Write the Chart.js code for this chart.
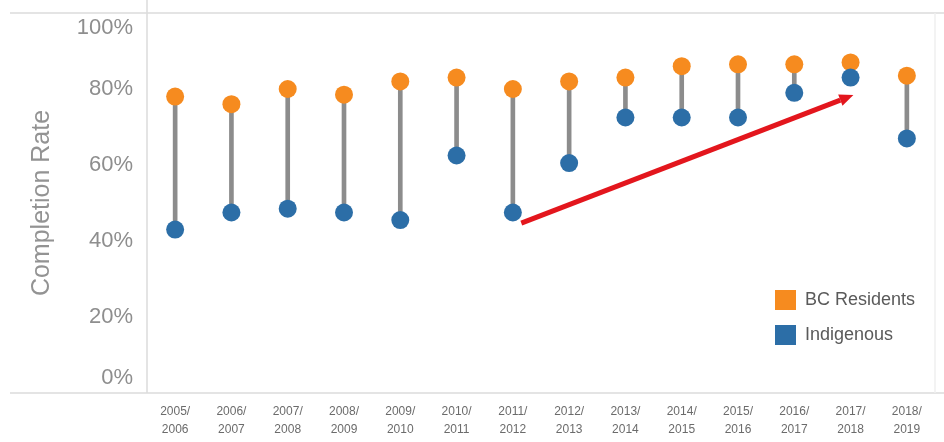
<!DOCTYPE html>
<html>
<head>
<meta charset="utf-8">
<script src="https://cdn.jsdelivr.net/npm/chart.js@4"></script>
<style>
  html, body { margin: 0; padding: 0; background: #fff; }
  #wrap { width: 944px; height: 442px; }
</style>
</head>
<body>
<div id="wrap"><canvas id="completionChart"></canvas></div>
<script>
const years = [
  ["2005/", "2006"], ["2006/", "2007"], ["2007/", "2008"], ["2008/", "2009"],
  ["2009/", "2010"], ["2010/", "2011"], ["2011/", "2012"], ["2012/", "2013"],
  ["2013/", "2014"], ["2014/", "2015"], ["2015/", "2016"], ["2016/", "2017"],
  ["2017/", "2018"], ["2018/", "2019"]
];
const bcResidents = [78, 76, 80, 78.5, 82, 83, 80, 82, 83, 86, 86.5, 86.5, 87, 83.5];
const indigenous = [43, 47.5, 48.5, 47.5, 45.5, 62.5, 47.5, 60.5, 72.5, 72.5, 72.5, 79, 83, 67];
const yTicks = [0, 20, 40, 60, 80, 100];
// red trend arrow, [category index, percent]
const trendArrow = [[6.15, 44.7], [12.05, 78.4]];

const ORANGE = "#f68b1f";
const BLUE = "#2c6ea7";

const frameAndLabels = {
  id: "frameAndLabels",
  beforeDatasetsDraw(chart) {
    const { ctx, chartArea: a, width } = chart;
    ctx.save();
    ctx.strokeStyle = "#dcdcdc";
    ctx.lineWidth = 1.5;
    ctx.beginPath();
    ctx.moveTo(10, a.top); ctx.lineTo(width, a.top);
    ctx.moveTo(10, a.bottom); ctx.lineTo(width, a.bottom);
    ctx.moveTo(a.left, 0); ctx.lineTo(a.left, a.bottom);
    ctx.stroke();
    ctx.strokeStyle = "#efefef";
    ctx.beginPath();
    ctx.moveTo(a.right, a.top); ctx.lineTo(a.right, a.bottom);
    ctx.stroke();
    ctx.restore();
  },
  afterDatasetsDraw(chart) {
    const { ctx, scales: { x, y } } = chart;
    const x1 = x.getPixelForValue(trendArrow[0][0]), y1 = y.getPixelForValue(trendArrow[0][1]);
    const x2 = x.getPixelForValue(trendArrow[1][0]), y2 = y.getPixelForValue(trendArrow[1][1]);
    const ang = Math.atan2(y2 - y1, x2 - x1);
    const head = 14;
    ctx.save();
    ctx.strokeStyle = "#e3161d";
    ctx.fillStyle = "#e3161d";
    ctx.lineWidth = 5;
    ctx.beginPath();
    ctx.moveTo(x1, y1);
    ctx.lineTo(x2 - head * Math.cos(ang), y2 - head * Math.sin(ang));
    ctx.stroke();
    ctx.beginPath();
    ctx.moveTo(x2, y2);
    ctx.lineTo(x2 - head * Math.cos(ang) + 6 * Math.sin(ang), y2 - head * Math.sin(ang) - 6 * Math.cos(ang));
    ctx.lineTo(x2 - head * Math.cos(ang) - 6 * Math.sin(ang), y2 - head * Math.sin(ang) + 6 * Math.cos(ang));
    ctx.closePath();
    ctx.fill();
    ctx.restore();
  },
  afterDraw(chart) {
    const { ctx, chartArea: a, scales: { y } } = chart;
    ctx.save();
    // y tick labels, end ones pulled inside the frame
    ctx.font = "22px 'Liberation Sans', Arial, sans-serif";
    ctx.fillStyle = "#8e8e8e";
    ctx.textAlign = "right";
    ctx.textBaseline = "middle";
    yTicks.forEach(v => {
      let py = y.getPixelForValue(v);
      if (v === 100) py += 15;
      if (v === 0) py -= 15;
      ctx.fillText(v + "%", a.left - 14, py);
    });
    // legend
    const items = [["BC Residents", ORANGE], ["Indigenous", BLUE]];
    ctx.font = "18px 'Liberation Sans', Arial, sans-serif";
    ctx.textAlign = "left";
    items.forEach((it, i) => {
      const top = a.bottom - 103 + i * 35;
      ctx.fillStyle = it[1];
      ctx.fillRect(a.right - 160, top, 21, 20);
      ctx.fillStyle = "#5a5a5a";
      ctx.fillText(it[0], a.right - 130, top + 10);
    });
    ctx.restore();
  }
};

new Chart(document.getElementById("completionChart"), {
  data: {
    labels: years,
    datasets: [
      {
        type: "bar",
        label: "gap",
        data: indigenous.map((v, i) => [v, bcResidents[i]]),
        backgroundColor: "#8c8c8c",
        barThickness: 4,
        order: 3
      },
      {
        type: "line",
        label: "BC Residents",
        data: bcResidents,
        showLine: false,
        pointRadius: 9,
        pointBorderWidth: 0,
        pointBackgroundColor: ORANGE,
        order: 2
      },
      {
        type: "line",
        label: "Indigenous",
        data: indigenous,
        showLine: false,
        pointRadius: 9,
        pointBorderWidth: 0,
        pointBackgroundColor: BLUE,
        order: 1
      }
    ]
  },
  options: {
    responsive: true,
    maintainAspectRatio: false,
    animation: false,
    layout: { padding: { top: 13, right: 2, bottom: 3, left: 0 } },
    plugins: { legend: { display: false }, tooltip: { enabled: false } },
    scales: {
      x: {
        offset: true,
        grid: { display: false, drawTicks: false },
        border: { display: false },
        ticks: {
          color: "#6b6b6b",
          padding: 10,
          maxRotation: 0,
          autoSkip: false,
          font: { family: "'Liberation Sans', Arial, sans-serif", size: 12, lineHeight: 1.5 }
        },
        afterFit(scale) { scale.height = 46; }
      },
      y: {
        min: 0,
        max: 100,
        grid: { display: false },
        border: { display: false },
        ticks: { display: false, stepSize: 20 },
        title: {
          display: true,
          text: "Completion Rate",
          color: "#939393",
          padding: { top: 30, bottom: 0 },
          font: { family: "'Liberation Sans', Arial, sans-serif", size: 25, lineHeight: 1 }
        },
        afterFit(scale) { scale.width = 147; }
      }
    }
  },
  plugins: [frameAndLabels]
});
</script>
</body>
</html>
